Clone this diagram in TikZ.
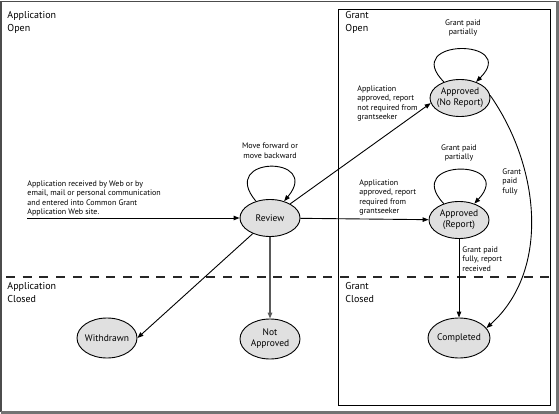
\documentclass[tikz,border=0pt]{standalone}
\usepackage{fontspec}
\setmainfont{PT Sans}
\usetikzlibrary{positioning, arrows.meta, shapes.geometric}

\tikzset{
  phase/.style={ellipse, draw, fill=black!12, line width=0.9pt,
    minimum width=60pt, minimum height=37pt, inner sep=-4pt,
    align=center, font=\fontsize{9.5}{11}\selectfont},
  region/.style={anchor=north west, inner sep=0pt, align=left,
    font=\fontsize{10}{12.5}\selectfont},
  note/.style={inner sep=0pt, align=left,
    font=\fontsize{8}{9.6}\selectfont},
}

\begin{document}
\begin{tikzpicture}[x=1pt, y=-1pt, line width=0.9pt,
    >={Triangle[length=6pt,width=4.5pt]}]
\useasboundingbox (0,0) rectangle (559,414);
% frames
\draw[black!70, line width=1.3pt] (1,412) -- (1,1.5) -- (557,1.5);
\draw[black!55, line width=2.6pt] (557.7,1.5) -- (557.7,412.7) -- (1,412.7);
\draw[line width=1pt] (338.5,10) rectangle (550,405);
\draw[black!85, dash pattern=on 9pt off 7.7pt, line width=1.1pt] (6,277) -- (550,277);

\node[region] (appopen) at (7,11) {Application\\Open};
\node[region] (grantopen) at (345,11) {Grant\\Open};
\node[region] (appclosed) at (7,282) {Application\\Closed};
\node[region] (grantclosed) at (345,282) {Grant\\Closed};

% states
\node[phase] (review) at (270,218) {Review};
\node[phase] (noreport) at (460,98) {Approved\\(No Report)};
\node[phase] (report) at (459,220) {Approved\\(Report)};
\node[phase, minimum height=40pt] (withdrawn) at (107,338) {Withdrawn};
\node[phase, minimum height=40pt] (rejected) at (270,339) {Not\\Approved};
\node[phase, minimum width=62pt, minimum height=40pt] (completed) at (459,338) {Completed};

\coordinate (received) at (27,218);

\node[note, above right=1pt and 0pt of received]
    {Application received by Web or by\\email, mail or personal communication\\and entered into Common Grant\\Application Web site.};
\node[note, align=center, above=40pt of review] {Move forward or\\move backward};
\node[note, align=center, above=42pt of noreport, xshift=3pt] {Grant paid\\partially};
\node[note, align=center, above=39pt of report] {Grant paid\\partially};
\node[note, anchor=north west] at (357,85)
    {Application\\approved, report\\not required from\\grantseeker};
\node[note, anchor=north west] at (359,179)
    {Application\\approved, report\\required from\\grantseeker};
\node[note, anchor=north west] at (502,168) {Grant\\paid\\fully};
\node[note, anchor=north west] at (462,246) {Grant paid\\fully, report\\received};

\draw
    (received) edge[->] (review)
    (review) edge[->, out=130, in=50, min distance=60pt] (review)
    (review.35) edge[->] (noreport.190)
    (review) edge[->] (report)
    (review) edge[->] (withdrawn.east)
    (review) edge[->, black!65, line width=1.3pt] (rejected)
    (noreport) edge[->, out=135, in=45, min distance=62pt] (noreport)
    (report) edge[->, out=133, in=47, min distance=62pt] (report)
    (report) edge[->] (completed)
    (noreport.5) edge[->, out=-55, in=42, looseness=0.95] (completed.20);
\end{tikzpicture}
\end{document}
